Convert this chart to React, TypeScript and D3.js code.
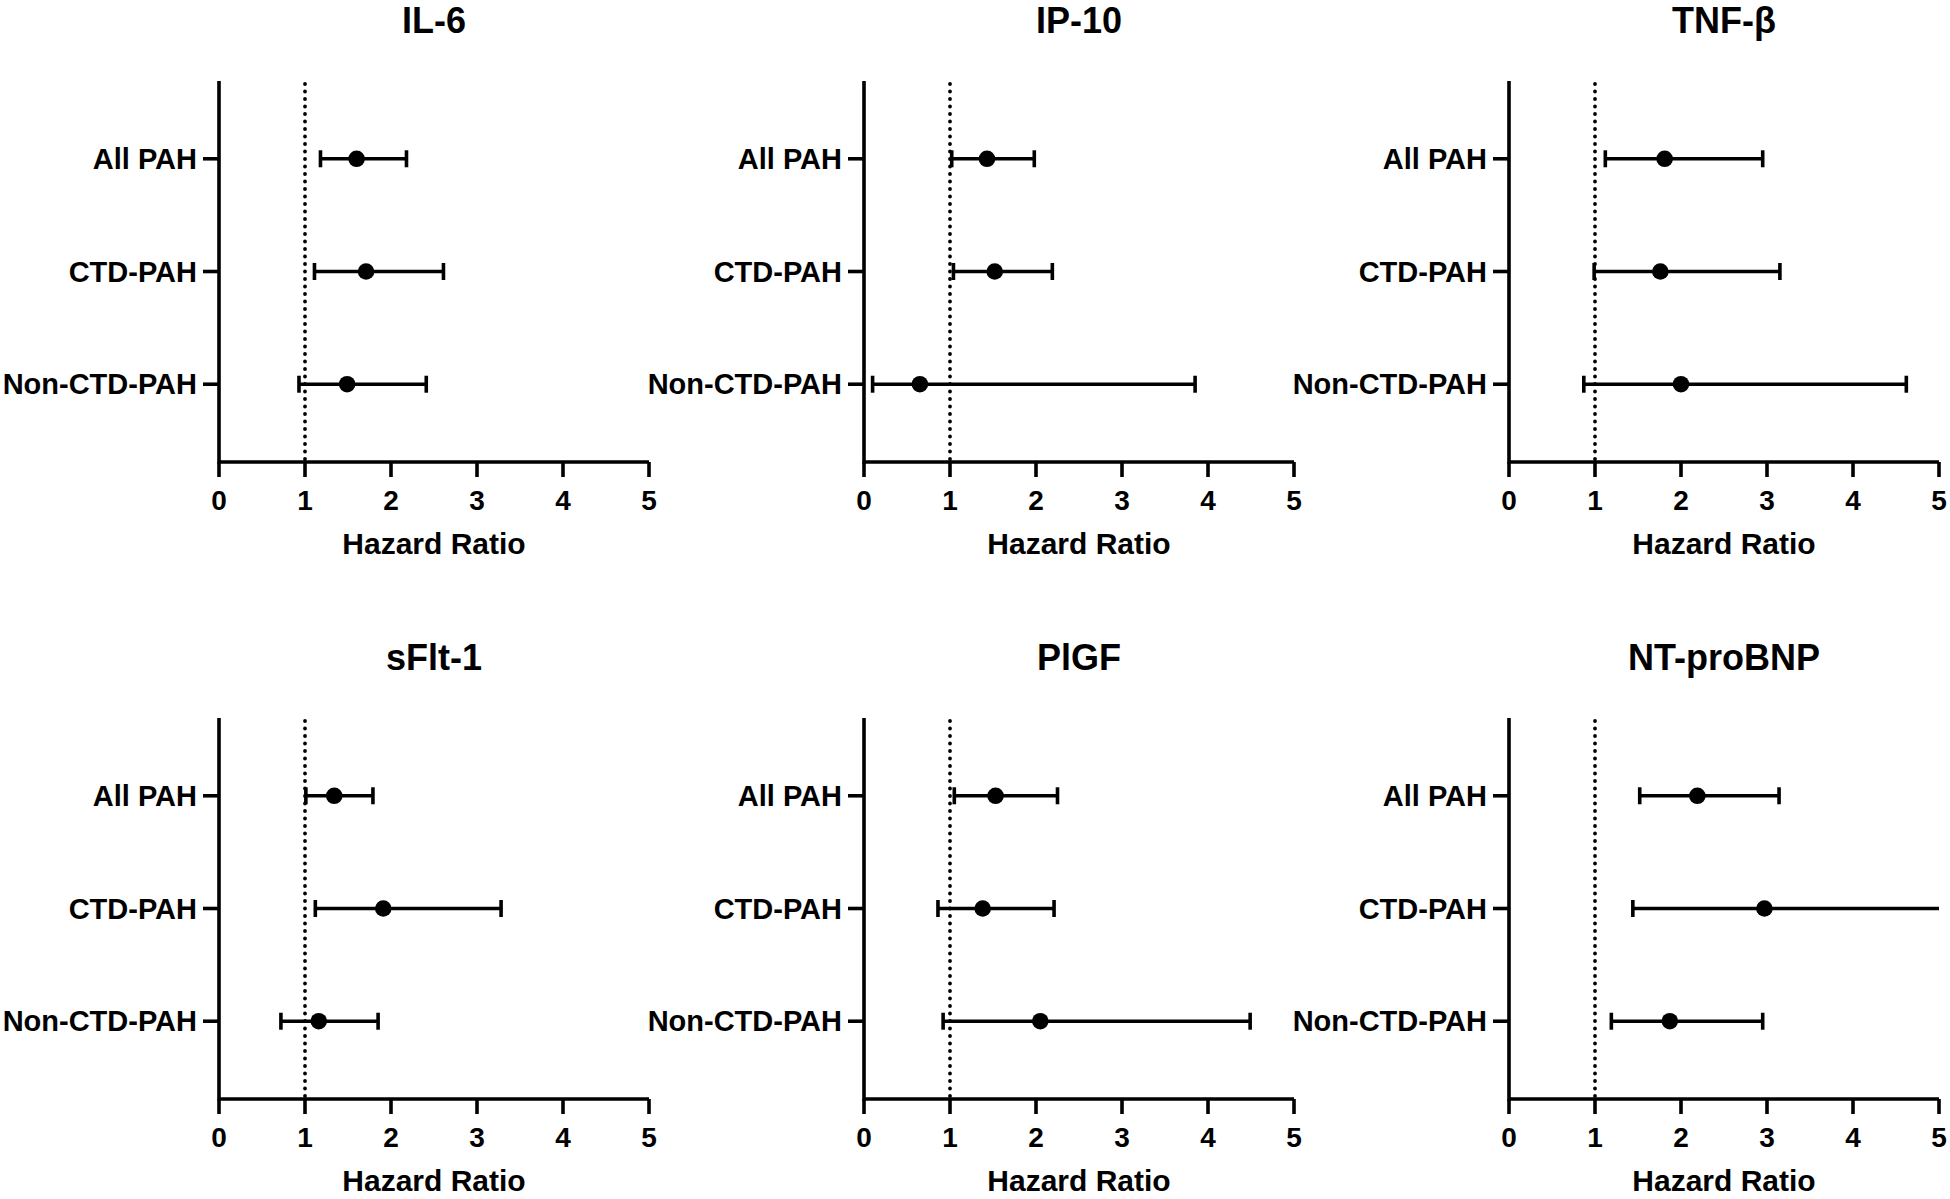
import React from "react";
import * as d3 from "d3";

const panelTitles = ["IL-6", "IP-10", "TNF-β", "sFlt-1", "PlGF", "NT-proBNP"];
const groups = ["All PAH", "CTD-PAH", "Non-CTD-PAH"];
const hazardRatio = [
  [1.6, 1.71, 1.49],
  [1.43, 1.52, 0.65],
  [1.81, 1.76, 2.0],
  [1.34, 1.91, 1.16],
  [1.53, 1.38, 2.05],
  [2.19, 2.97, 1.87],
];
const lowerCI = [
  [1.18, 1.11, 0.93],
  [1.02, 1.04, 0.1],
  [1.12, 0.99, 0.87],
  [1.01, 1.12, 0.72],
  [1.05, 0.86, 0.92],
  [1.52, 1.44, 1.19],
];
const upperCI = [
  [2.18, 2.61, 2.41],
  [1.98, 2.19, 3.85],
  [2.95, 3.15, 4.62],
  [1.79, 3.28, 1.85],
  [2.25, 2.21, 4.49],
  [3.14, 5.4, 2.95],
];
const xTicks = [0, 1, 2, 3, 4, 5];
const refLine = 1;
const xLabel = "Hazard Ratio";

const W = 1950;
const H = 1199;
const colLeft = [219, 864, 1509];
const axisW = 430;
const rowTop = [81, 718];
const rowBottom = [462, 1099];
const FONT = "'Liberation Sans', Arial, Helvetica, sans-serif";
const SW = 3.6;

function Panel({ idx }: { idx: number }) {
  const col = idx % 3;
  const row = Math.floor(idx / 3);
  const x0 = colLeft[col];
  const top = rowTop[row];
  const bottom = rowBottom[row];
  const x = d3.scaleLinear().domain([0, 5]).range([x0, x0 + axisW]);
  const y = d3.scalePoint<string>().domain(groups).range([top, bottom]).padding(0.69);
  const cx = (x0 + x0 + axisW) / 2;
  const [dMin, dMax] = x.domain();
  const capH = 8.5;
  return (
    <g>
      <text x={cx} y={top - 48} textAnchor="middle" fontSize={36} fontWeight="bold" fontFamily={FONT} fill="#000">
        {panelTitles[idx]}
      </text>
      <line
        x1={x(refLine)}
        x2={x(refLine)}
        y1={top + 3}
        y2={bottom}
        stroke="#000"
        strokeWidth={3.8}
        strokeDasharray="0 7.5"
        strokeLinecap="round"
      />
      <path
        d={`M${x0},${top} V${bottom} H${x(dMax)}`}
        fill="none"
        stroke="#000"
        strokeWidth={SW}
        strokeLinejoin="miter"
      />
      {xTicks.map((t) => (
        <g key={t}>
          <line x1={x(t)} x2={x(t)} y1={bottom} y2={bottom + 15} stroke="#000" strokeWidth={SW} />
          <text x={x(t)} y={bottom + 48} textAnchor="middle" fontSize={28} fontWeight="bold" fontFamily={FONT} fill="#000">
            {t}
          </text>
        </g>
      ))}
      {groups.map((g) => (
        <g key={g}>
          <line x1={x0 - 16} x2={x0} y1={y(g)} y2={y(g)} stroke="#000" strokeWidth={SW} />
          <text
            x={x0 - 22}
            y={(y(g) as number) + 10}
            textAnchor="end"
            fontSize={29}
            fontWeight="bold"
            fontFamily={FONT}
            fill="#000"
          >
            {g}
          </text>
        </g>
      ))}
      {groups.map((g, i) => {
        const yy = y(g) as number;
        const lo = lowerCI[idx][i];
        const hi = upperCI[idx][i];
        const loC = Math.max(lo, dMin);
        const hiC = Math.min(hi, dMax);
        return (
          <g key={"e" + g}>
            <line x1={x(loC)} x2={x(hiC)} y1={yy} y2={yy} stroke="#000" strokeWidth={SW} />
            {lo >= dMin && (
              <line x1={x(lo)} x2={x(lo)} y1={yy - capH} y2={yy + capH} stroke="#000" strokeWidth={SW} />
            )}
            {hi <= dMax && (
              <line x1={x(hi)} x2={x(hi)} y1={yy - capH} y2={yy + capH} stroke="#000" strokeWidth={SW} />
            )}
            <circle cx={x(hazardRatio[idx][i])} cy={yy} r={8.3} fill="#000" />
          </g>
        );
      })}
      <text x={cx} y={bottom + 92} textAnchor="middle" fontSize={30} fontWeight="bold" fontFamily={FONT} fill="#000">
        {xLabel}
      </text>
    </g>
  );
}

export default function App() {
  return (
    <svg
      width={W}
      height={H}
      viewBox={`0 0 ${W} ${H}`}
      style={{ position: "absolute", left: 0, top: 0, background: "#fff" }}
    >
      <rect x={0} y={0} width={W} height={H} fill="#fff" />
      {panelTitles.map((_, i) => (
        <Panel key={i} idx={i} />
      ))}
    </svg>
  );
}
